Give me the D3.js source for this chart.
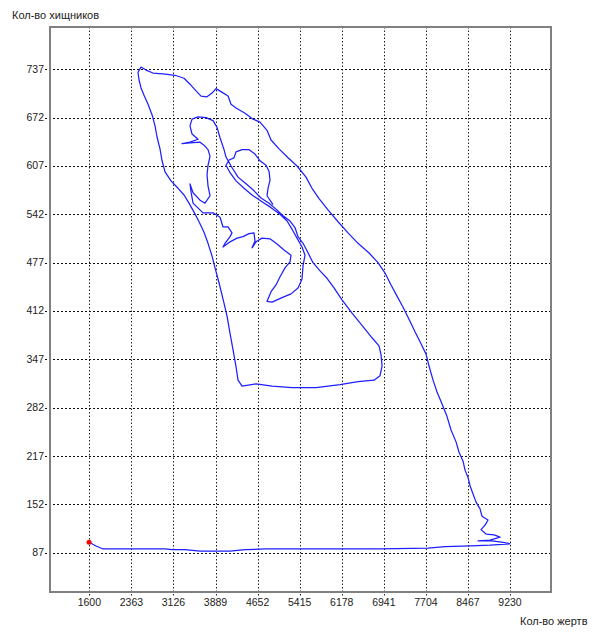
<!DOCTYPE html>
<html>
<head>
<meta charset="utf-8">
<script src="https://cdn.jsdelivr.net/npm/d3@7"></script>
<style>
  html, body { margin: 0; padding: 0; background: #fff; }
  svg { display: block; }
  text { font-family: "Liberation Sans", Arial, sans-serif; font-size: 10.5px; fill: #222; }
  text.title { font-size: 11px; }
</style>
</head>
<body>
<svg id="chart" width="596" height="632"></svg>
<script>
// ---- data ----
const preyTicks = [1600, 2363, 3126, 3889, 4652, 5415, 6178, 6941, 7704, 8467, 9230];
const predTicks = [87, 152, 217, 282, 347, 412, 477, 542, 607, 672, 737];
const preyDomain = [896, 9964];
const predDomain = [34.8, 793.9];
const xTitle = "Кол-во жертв";
const yTitle = "Кол-во хищников";

// trajectory: prey (x) and predators (y), in order
const prey = [
  1595,1722,1849,2012,2429,2973,3100,3336,3608,4152,4424,4787,5784,6872,7743,8051,8505,8868,9230,
  9103,8904,8650,8868,9049,8940,8795,8704,8777,8831,8722,8686,8614,8559,8505,8469,8414,8378,8305,8251,
  8160,8088,7997,7906,7834,7761,7707,7616,7507,7398,7290,7181,7072,6963,6836,6673,6473,6292,6111,5929,
  5766,5639,5530,5367,5204,5041,4896,4823,4696,4569,4424,4261,4170,4116,3989,3898,3825,3735,3626,3535,
  3426,3318,3154,2937,2755,2628,2538,2483,2501,2538,2592,2665,2737,2792,2828,2882,2919,2973,3082,3209,
  3318,3408,3499,3590,3680,3753,3825,3880,3952,4025,4098,4152,4206,4261,4297,4370,4624,4914,5276,5712,
  6147,6473,6764,6872,6909,6891,6854,6727,6564,6365,6183,6038,5911,5784,5657,5548,5476,5385,5331,5240,
  5113,4986,4859,4714,4569,4442,4297,4170,4079,4043,3971,3916,3844,3717,3572,3463,3426,3463,3572,3426,
  3281,3426,3608,3680,3753,3789,3753,3735,3753,3789,3698,3608,3481,3426,3445,3481,3662,3844,3971,4025,
  4116,4188,4152,4061,4025,4152,4279,4388,4497,4587,4605,4551,4624,4732,4877,5004,5131,5258,5240,5149,
  5059,4986,4896,4823,4914,5095,5258,5385,5458,5476,5512,5458,5367,5276,5186,5059,4896,4732,4551,4406,
  4261,4152,4079,4134,4224,4261,4370,4497,4605,4696,4805,4859,4877,4841,4823,4932
];
const predators = [
  101,96,92,92,92,92,91,91,89,89,91,92,92,92,93,95,96,97,99,
  101,103,103,104,108,111,112,118,124,131,136,146,155,166,177,188,198,210,222,236,
  252,270,287,303,319,338,354,368,384,401,417,432,447,463,477,490,503,517,532,548,
  563,577,592,607,618,630,642,655,666,670,678,685,690,701,707,711,705,700,701,708,
  717,725,729,731,732,736,740,733,723,712,702,690,676,661,646,630,614,599,587,577,
  568,557,545,532,518,503,486,470,450,428,405,382,360,337,319,311,314,311,309,309,
  313,317,319,325,338,353,365,376,391,409,427,443,456,466,477,493,503,512,524,533,
  540,549,557,564,575,583,592,607,619,629,645,659,668,672,673,670,661,650,643,639,
  637,638,639,635,629,620,608,595,580,567,557,561,571,583,572,557,544,544,538,525,
  525,517,512,503,498,505,510,512,516,517,506,497,505,510,509,502,494,487,478,470,
  458,447,438,425,424,430,435,443,455,473,487,498,510,522,533,542,551,559,568,577,
  587,598,608,615,618,626,629,629,623,614,608,600,588,577,567,555
];

// ---- chart ----
const svg = d3.select("#chart");
const x = d3.scaleLinear().domain(preyDomain).range([50.5, 550.5]);
const y = d3.scaleLinear().domain(predDomain).range([591.5, 27]);
const px = v => Math.round(x(v)) + 0.5;
const py = v => Math.round(y(v)) + 0.5;

// grid
const grid = svg.append("g");
grid.selectAll("line.v").data(preyTicks).join("line")
  .attr("x1", d => px(d)).attr("x2", d => px(d))
  .attr("y1", 27).attr("y2", 597)
  .attr("stroke", "#222").attr("stroke-width", 1)
  .attr("stroke-dasharray", "1.5,2");
grid.selectAll("line.h").data(predTicks).join("line")
  .attr("x1", 45).attr("x2", 550)
  .attr("y1", d => py(d)).attr("y2", d => py(d))
  .attr("stroke", "#111").attr("stroke-width", 1)
  .attr("stroke-dasharray", "2,2");

// frame
svg.append("rect")
  .attr("x", 50).attr("y", 27).attr("width", 501).attr("height", 565)
  .attr("fill", "none").attr("stroke", "#808080").attr("stroke-width", 2);

// tick labels
svg.append("g").selectAll("text").data(preyTicks).join("text")
  .attr("x", d => x(d)).attr("y", 606)
  .attr("text-anchor", "middle").text(d => d);
svg.append("g").selectAll("text").data(predTicks).join("text")
  .attr("x", 44).attr("y", d => y(d) + 3.5)
  .attr("text-anchor", "end").text(d => d);

// titles
svg.append("text").attr("class", "title").attr("x", 12).attr("y", 19).text(yTitle);
svg.append("text").attr("class", "title").attr("x", 520).attr("y", 625).text(xTitle);

// trajectory
const pts = prey.map((p, i) => [p, predators[i]]);
svg.append("path")
  .datum(pts)
  .attr("fill", "none")
  .attr("stroke", "#1f1fff")
  .attr("stroke-width", 1.25)
  .attr("stroke-linejoin", "round")
  .attr("d", d3.line().x(d => x(d[0])).y(d => y(d[1])));

// start point
svg.append("circle")
  .attr("cx", x(prey[0])).attr("cy", y(predators[0]))
  .attr("r", 2.5).attr("fill", "#ff0000");
</script>
</body>
</html>
